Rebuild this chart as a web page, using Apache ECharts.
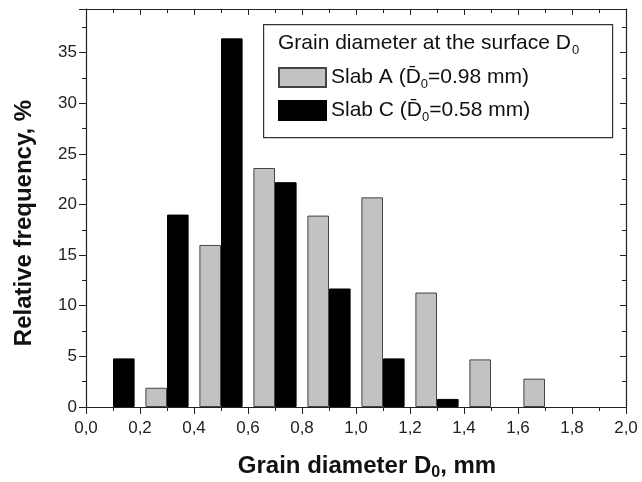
<!DOCTYPE html>
<html>
<head>
<meta charset="utf-8">
<script src="https://cdn.jsdelivr.net/npm/echarts@6/dist/echarts.min.js"></script>
<style>
  html, body { margin: 0; padding: 0; background: #fff; }
  #chart { width: 642px; height: 482px; }
</style>
</head>
<body>
<div id="chart"></div>
<script>
// bin centres (mm), 0.2 mm wide bins
const binCenters = ['0.1', '0.3', '0.5', '0.7', '0.9', '1.1', '1.3', '1.5', '1.7', '1.9'];
const slabA = [0, 1.9, 16.0, 23.6, 18.9, 20.7, 11.3, 4.7, 2.8, 0];
const slabC = [4.8, 19.0, 36.4, 22.2, 11.7, 4.8, 0.8, 0, 0, 0];
const yTicks = [0, 5, 10, 15, 20, 25, 30, 35];

const FONT = 'Liberation Sans, Arial, sans-serif';
const AXIS = '#222';

// empty bins are simply not drawn
const noZero = arr => arr.map(v => (v === 0 ? null : v));

const chart = echarts.init(document.getElementById('chart'), null, { renderer: 'canvas' });

const frameAxisX = {
    type: 'value', min: 0, max: 2, interval: 0.2,
    axisLine: { show: true, onZero: false, lineStyle: { color: AXIS, width: 1.2 } },
    splitLine: { show: false },
};
const frameAxisY = {
    type: 'value', min: 0, max: 39.3, interval: 5,
    axisLine: { show: true, onZero: false, lineStyle: { color: AXIS, width: 1.2 } },
    splitLine: { show: false },
};

chart.setOption({
    backgroundColor: '#fff',
    animation: false,
    grid: { left: 86, right: 16, top: 9, bottom: 75, containLabel: false, outerBoundsMode: 'none' },
    legend: {
        orient: 'vertical',
        left: 278,
        top: 64,
        icon: 'rect',
        itemWidth: 47,
        itemHeight: 19,
        itemGap: 6,
        padding: 0,
        data: ['A', 'C'],
        formatter: name => `{t|Slab ${name} (D\u0304}{s|0}{t|=${name === 'A' ? '0.98' : '0.58'} mm)}`,
        textStyle: {
            rich: {
                t: { fontFamily: FONT, fontSize: 21, color: '#111', lineHeight: 19 },
                s: { fontFamily: FONT, fontSize: 13, color: '#111', lineHeight: 19, padding: [14, 0, 0, 0] },
            },
        },
    },
    graphic: [
        {
            type: 'rect', left: 263, top: 24, z: 0,
            shape: { width: 349, height: 113 },
            style: { fill: '#fff', stroke: '#333', lineWidth: 1.2 },
        },
        {
            type: 'text', left: 278, top: 33, z: 1,
            style: {
                text: '{t|Grain diameter at the surface D}{s|0}',
                rich: {
                    t: { fontFamily: FONT, fontSize: 21, fill: '#111' },
                    s: { fontFamily: FONT, fontSize: 13, fill: '#111', padding: [14, 0, 0, 1] },
                },
            },
        },
    ],
    xAxis: [
        {
            // bar positions
            type: 'category', data: binCenters, boundaryGap: true, show: false,
        },
        {
            ...frameAxisX, position: 'bottom',
            axisTick: { show: true, inside: false, length: 7, lineStyle: { color: AXIS } },
            minorTick: { show: true, splitNumber: 2, length: 4, lineStyle: { color: AXIS } },
            axisLabel: {
                fontFamily: FONT, fontSize: 17, color: '#222', margin: 13,
                formatter: v => v.toFixed(1).replace('.', ','),
            },
            name: '{b|Grain diameter D}{s|0}{b|, mm}',
            nameLocation: 'middle',
            nameGap: 44,
            nameTextStyle: {
                padding: [0, 0, 0, 22],
                rich: {
                    b: { fontFamily: FONT, fontSize: 24, fontWeight: 'bold', color: '#111' },
                    s: { fontFamily: FONT, fontSize: 16, fontWeight: 'bold', color: '#111', padding: [14, 0, 0, 0] },
                },
            },
        },
        {
            ...frameAxisX, position: 'top',
            axisTick: { show: true, inside: true, length: 6, lineStyle: { color: AXIS } },
            minorTick: { show: true, splitNumber: 2, length: 4, lineStyle: { color: AXIS } },
            axisLabel: { show: false },
        },
    ],
    yAxis: [
        {
            ...frameAxisY, position: 'left',
            axisTick: { show: true, inside: false, length: 7, lineStyle: { color: AXIS } },
            minorTick: { show: true, splitNumber: 2, length: 4, lineStyle: { color: AXIS } },
            axisLabel: {
                fontFamily: FONT, fontSize: 17, color: '#222', margin: 9,
                showMaxLabel: false,
                formatter: v => (yTicks.includes(v) ? String(v) : ''),
            },
            name: 'Relative frequency, %',
            nameLocation: 'middle',
            nameGap: 50,
            nameTextStyle: { fontFamily: FONT, fontSize: 24, fontWeight: 'bold', color: '#111', padding: [0, 0, 0, -30] },
        },
        {
            ...frameAxisY, position: 'right',
            axisTick: { show: true, inside: true, length: 6, lineStyle: { color: AXIS } },
            minorTick: { show: true, splitNumber: 2, length: 4, lineStyle: { color: AXIS } },
            axisLabel: { show: false },
        },
    ],
    series: [
        {
            name: 'A', type: 'bar', xAxisIndex: 0, yAxisIndex: 0,
            data: noZero(slabA),
            barWidth: '40%', barGap: '0%',
            itemStyle: { color: '#c2c2c2', borderColor: '#444', borderWidth: 1 },
        },
        {
            name: 'C', type: 'bar', xAxisIndex: 0, yAxisIndex: 0,
            data: noZero(slabC),
            barWidth: '40%', barGap: '0%',
            itemStyle: { color: '#000', borderColor: '#000', borderWidth: 1 },
        },
    ],
});
</script>
</body>
</html>
